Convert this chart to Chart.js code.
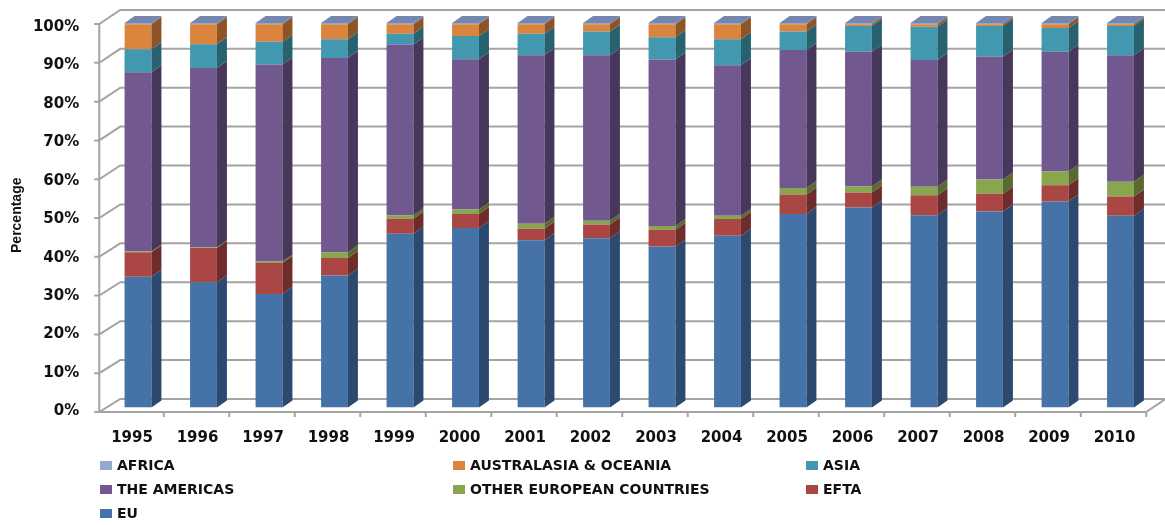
<!DOCTYPE html>
<html>
<head>
<meta charset="utf-8">
<script src="https://cdn.jsdelivr.net/npm/chart.js@4/dist/chart.umd.min.js"></script>
<style>
body{margin:0;background:#fff;}
#wrap{position:relative;width:1165px;height:525px;}
#leyenda{position:absolute;left:100px;top:453px;display:grid;grid-template-columns:353px 353px 353px;font:bold 14px "DejaVu Sans";color:#111;}
.item{height:24px;display:flex;align-items:center;}
.caja{width:12px;height:9px;margin-right:5px;}
</style>
</head>
<body>
<div id="wrap">
  <canvas id="grafica" width="1165" height="525"></canvas>
  <div id="leyenda"></div>
</div>
<script>
// datos (porcentajes por año)
const anios = ['1995','1996','1997','1998','1999','2000','2001','2002','2003','2004','2005','2006','2007','2008','2009','2010'];
const eu = [34.0, 32.6, 29.5, 34.3, 45.2, 46.7, 43.5, 44.0, 41.9, 44.7, 50.3, 52.0, 50.0, 51.0, 53.6, 49.9];
const efta = [6.4, 8.9, 8.1, 4.6, 3.9, 3.6, 3.0, 3.6, 4.3, 4.3, 5.1, 3.9, 5.2, 4.6, 4.2, 5.0];
const otrosEuropa = [0.2, 0.2, 0.4, 1.5, 0.9, 1.2, 1.3, 1.0, 1.0, 0.9, 1.7, 1.6, 2.2, 3.7, 3.6, 3.8];
const americas = [46.6, 46.6, 51.2, 50.5, 44.4, 39.1, 43.8, 43.0, 43.3, 39.1, 35.9, 35.0, 33.0, 32.0, 31.1, 32.9];
const asia = [6.0, 6.2, 5.9, 4.9, 2.8, 6.0, 5.6, 6.2, 5.8, 6.8, 4.8, 6.7, 8.6, 7.9, 6.2, 7.6];
const australasia = [6.5, 5.2, 4.6, 3.9, 2.5, 3.1, 2.5, 1.9, 3.4, 3.9, 1.9, 0.5, 0.7, 0.5, 1.0, 0.5];
const africa = [0.3, 0.3, 0.3, 0.3, 0.3, 0.3, 0.3, 0.3, 0.3, 0.3, 0.3, 0.3, 0.3, 0.3, 0.3, 0.3];
const ticksY = [0, 10, 20, 30, 40, 50, 60, 70, 80, 90, 100];

const series = [
  {label:'EU', data:eu, backgroundColor:'#4572a7', lado:'#2c4a6f'},
  {label:'EFTA', data:efta, backgroundColor:'#aa4643', lado:'#6e2c2a'},
  {label:'OTHER EUROPEAN COUNTRIES', data:otrosEuropa, backgroundColor:'#89a54e', lado:'#586a31'},
  {label:'THE AMERICAS', data:americas, backgroundColor:'#71588f', lado:'#47375b'},
  {label:'ASIA', data:asia, backgroundColor:'#4198af', lado:'#286271'},
  {label:'AUSTRALASIA & OCEANIA', data:australasia, backgroundColor:'#db843d', lado:'#8e5426'},
  {label:'AFRICA', data:africa, backgroundColor:'#93a9cf', lado:'#5f6f8a'}
];

const dx = 10, dy = -7; // profundidad de las barras

const caja3d = {
  id:'caja3d',
  beforeDatasetsDraw(chart){
    const {ctx, chartArea:a, scales:{x, y}} = chart;
    const y0 = y.getPixelForValue(0);
    const atras = v => y0 - 8.5 + (y.getPixelForValue(v) - y0)*1.012;
    const frente = v => y0 + 4.5 + (y.getPixelForValue(v) - y0)*1.009;
    const fx = a.left - 6, bx = a.left + 15, xr = a.right - 7;
    ctx.save();
    ctx.strokeStyle = '#a4a4a4';
    ctx.lineWidth = 2;
    ctx.beginPath();
    ticksY.forEach(v=>{
      const yf = frente(v), yb = atras(v);
      ctx.moveTo(fx-5, yf); ctx.lineTo(fx, yf); ctx.lineTo(bx, yb); ctx.lineTo(chart.width, yb);
    });
    ctx.moveTo(fx, frente(0)); ctx.lineTo(fx, frente(100));
    ctx.moveTo(fx, frente(0)); ctx.lineTo(xr, frente(0)); ctx.lineTo(xr+19, atras(0));
    for(let i=1;i<=anios.length;i++){
      const xx = a.left + i*(a.width/anios.length) - 7;
      ctx.moveTo(xx, frente(0)); ctx.lineTo(xx, frente(0)+5);
    }
    ctx.stroke();
    ctx.restore();
  },
  afterDatasetsDraw(chart){
    const ctx = chart.ctx;
    ctx.save();
    chart.data.datasets.forEach((ds, i)=>{
      const meta = chart.getDatasetMeta(i);
      meta.data.forEach(bar=>{
        const {x, y, base, width} = bar.getProps(['x','y','base','width'], true);
        const r = x + width/2, l = x - width/2;
        ctx.fillStyle = ds.lado;
        ctx.beginPath();
        ctx.moveTo(r, y); ctx.lineTo(r+dx, y+dy); ctx.lineTo(r+dx, base+dy); ctx.lineTo(r, base);
        ctx.closePath(); ctx.fill();
        if(i === chart.data.datasets.length-1){ // cara superior
          ctx.fillStyle = '#7587ae';
          ctx.beginPath();
          ctx.moveTo(l, y); ctx.lineTo(l+dx, y+dy); ctx.lineTo(r+dx, y+dy); ctx.lineTo(r, y);
          ctx.closePath(); ctx.fill();
        }
      });
    });
    ctx.restore();
  }
};

const ctx = document.getElementById('grafica').getContext('2d');
const grafica = new Chart(ctx, {
  type:'bar',
  data:{
    labels:anios,
    datasets:series.map(s=>({...s, borderWidth:0, categoryPercentage:1, barPercentage:0.41}))
  },
  options:{
    responsive:false,
    animation:false,
    devicePixelRatio:1,
    layout:{padding:{top:23, right:11.75, bottom:79.5, left:0}},
    scales:{
      x:{
        stacked:true,
        afterFit(scale){ scale.height = 38; },
        grid:{display:false},
        border:{display:false},
        ticks:{color:'#111', font:{family:'DejaVu Sans', size:15, weight:'bold'}, padding:14, labelOffset:-6, maxRotation:0}
      },
      y:{
        stacked:true,
        min:0, max:100,
        afterFit(scale){ scale.width = 105.25; scale.paddingTop = 0; scale.paddingBottom = 0; },
        afterBuildTicks(scale){ scale.ticks = ticksY.map(v=>({value:v})); },
        grid:{display:false, drawTicks:false},
        border:{display:false},
        ticks:{color:'#111', font:{family:'DejaVu Sans', size:15, weight:'bold'}, padding:26, labelOffset:4, callback:v=>v+'%'},
        title:{display:true, text:'Percentage', color:'#111', font:{family:'Liberation Sans', size:14, weight:'bold'}, padding:{top:9, bottom:0}}
      }
    },
    plugins:{legend:{display:false}, tooltip:{enabled:false}}
  },
  plugins:[caja3d]
});

// leyenda en tres columnas
const leyenda = document.getElementById('leyenda');
grafica.data.datasets.slice().reverse().forEach(ds=>{
  const item = document.createElement('div');
  item.className = 'item';
  item.innerHTML = '<span class="caja" style="background:'+ds.backgroundColor+'"></span>';
  const txt = document.createElement('span');
  txt.textContent = ds.label;
  item.appendChild(txt);
  leyenda.appendChild(item);
});
</script>
</body>
</html>
